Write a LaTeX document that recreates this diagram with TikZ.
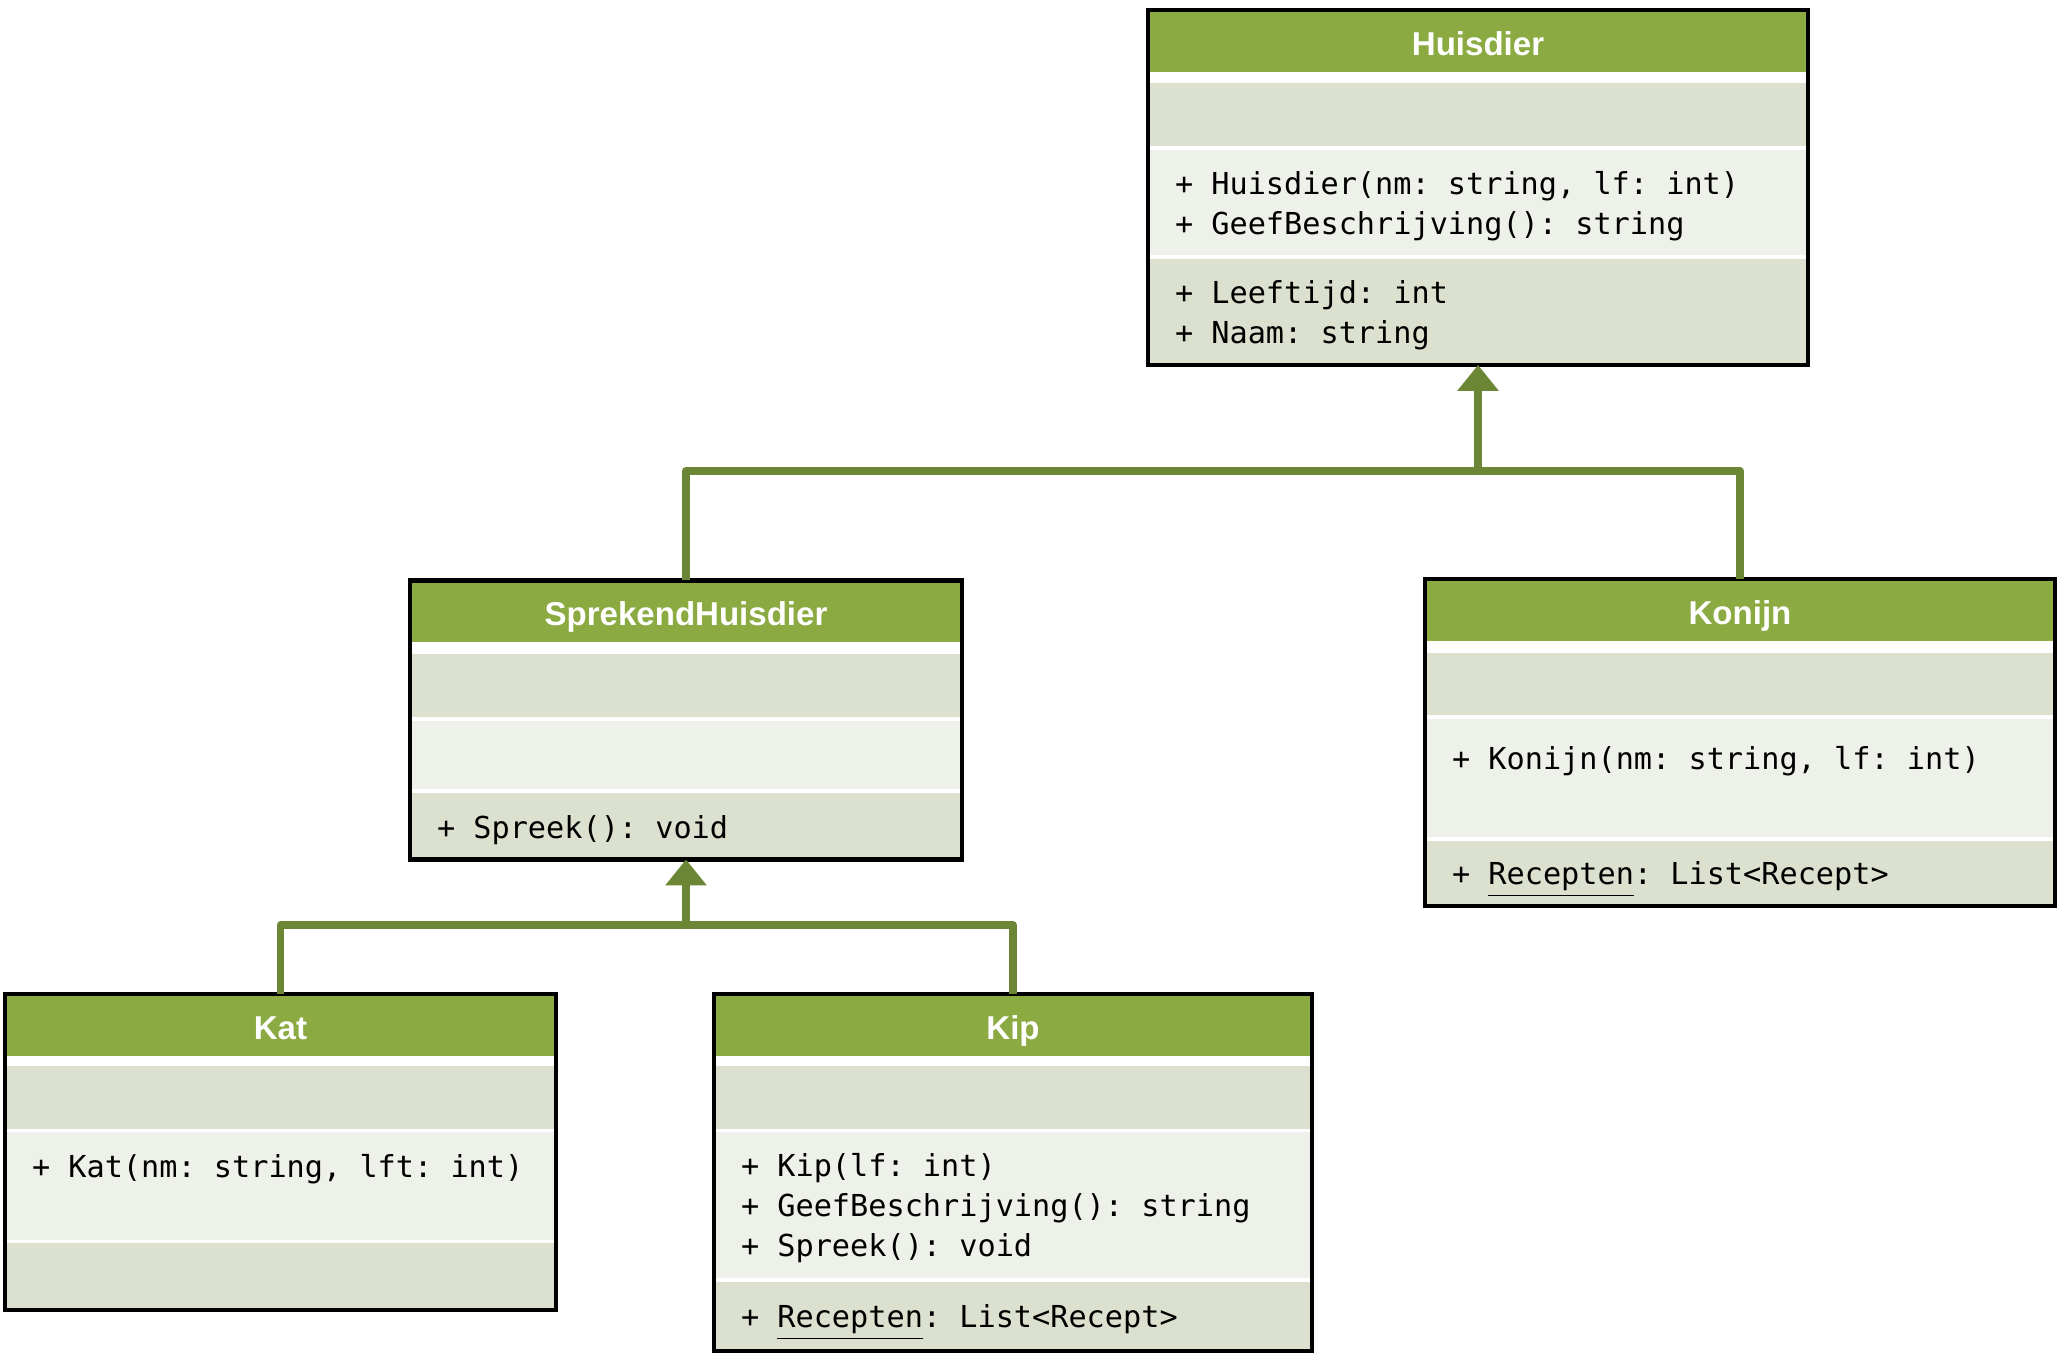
\documentclass[tikz,border=0pt]{standalone}
\usepackage{fontspec}
\usepackage{tikz}
\usetikzlibrary{positioning}
\usetikzlibrary{fit}
\usetikzlibrary{arrows.meta}

\newfontfamily\codefont{DejaVu Sans Mono}
\newfontfamily\headfont{Liberation Sans}

\definecolor{olivehead}{RGB}{140,170,66}
\definecolor{oliveband}{RGB}{219,225,206}
\definecolor{olivepale}{RGB}{238,241,233}
\definecolor{olivelink}{RGB}{107,134,52}

\begin{document}
\begin{tikzpicture}[
    >={Triangle[width=0.40cm,length=0.26cm]},
    every node/.style={inner sep=0pt, outer sep=0pt},
    title/.style={
        fill=olivehead,
        text=white,
        font=\headfont\bfseries\fontsize{9.4}{11}\selectfont,
        text height=8.2pt,
        text depth=0pt,
        minimum height=0.62cm
    },
    band/.style={
        fill=oliveband,
        font=\codefont\fontsize{8.6}{11.4}\selectfont\frenchspacing,
        inner xsep=0.27cm,
        align=flush left,
        execute at begin node={\rule{0pt}{10pt}},
        execute at end node={\rule[-3.4pt]{0pt}{3.4pt}}
    },
    pale/.style={
        band,
        fill=olivepale
    },
    frame/.style={
        draw,
        line width=1.2pt
    },
    link/.style={draw=olivelink, line width=2.2pt, line join=round},
    arrow/.style={link, ->}
]
\useasboundingbox (0,0) rectangle (20.64,13.57);

% Huisdier
\node[title, minimum width=6.60cm] (huisdier) at (14.78,13.16) {Huisdier};
\node[band, text width=6.06cm, minimum height=0.63cm, below=0.11cm of huisdier] (huisdier-a) {};
\node[pale, text width=6.06cm, minimum height=1.05cm, below=0.04cm of huisdier-a] (huisdier-b) {+ Huisdier(nm: string, lf: int)\\+ GeefBeschrijving(): string};
\node[band, text width=6.06cm, minimum height=1.06cm, below=0.04cm of huisdier-b] (huisdier-c) {+ Leeftijd: int\\+ Naam: string};
\node[frame, fit=(huisdier)(huisdier-c)] (huisdierbox) {};

% SprekendHuisdier
\node[title, minimum width=5.52cm] (sprekend) at (6.86,7.455) {SprekendHuisdier};
\node[band, text width=4.98cm, minimum height=0.63cm, below=0.12cm of sprekend] (sprekend-a) {};
\node[pale, text width=4.98cm, minimum height=0.68cm, below=0.04cm of sprekend-a] (sprekend-b) {};
\node[band, text width=4.98cm, minimum height=0.66cm, below=0.04cm of sprekend-b] (sprekend-c) {+ Spreek(): void};
\node[frame, fit=(sprekend)(sprekend-c)] (sprekendbox) {};

% Konijn
\node[title, minimum width=6.30cm] (konijn) at (17.40,7.47) {Konijn};
\node[band, text width=5.76cm, minimum height=0.62cm, below=0.12cm of konijn] (konijn-a) {};
\node[pale, text width=5.76cm, minimum height=1.18cm, below=0.04cm of konijn-a] (konijn-b) {+ Konijn(nm: string, lf: int)\\\phantom{+}};
\node[band, text width=5.76cm, minimum height=0.65cm, below=0.04cm of konijn-b] (konijn-c) {+ \underline{Recepten}: List<Recept>};
\node[frame, fit=(konijn)(konijn-c)] (konijnbox) {};

% Kat
\node[title, minimum width=5.51cm] (kat) at (2.805,3.32) {Kat};
\node[band, text width=4.97cm, minimum height=0.63cm, below=0.10cm of kat] (kat-a) {};
\node[pale, text width=4.97cm, minimum height=1.08cm, below=0.03cm of kat-a] (kat-b) {+ Kat(nm: string, lft: int)\\\phantom{+}};
\node[band, text width=4.97cm, minimum height=0.67cm, below=0.03cm of kat-b] (kat-c) {};
\node[frame, fit=(kat)(kat-c)] (katbox) {};

% Kip
\node[title, minimum width=5.98cm] (kip) at (10.13,3.32) {Kip};
\node[band, text width=5.44cm, minimum height=0.63cm, below=0.10cm of kip] (kip-a) {};
\node[pale, text width=5.44cm, minimum height=1.46cm, below=0.03cm of kip-a] (kip-b) {+ Kip(lf: int)\\+ GeefBeschrijving(): string\\+ Spreek(): void};
\node[band, text width=5.44cm, minimum height=0.69cm, below=0.04cm of kip-b] (kip-c) {+ \underline{Recepten}: List<Recept>};
\node[frame, fit=(kip)(kip-c)] (kipbox) {};

% Arrows
\coordinate (split1) at (14.78,8.86);
\coordinate (split2) at (6.86,4.32);

\draw[link] (sprekendbox.north) |- (split1) -| (konijnbox.north);
\draw[arrow] (split1) -- (huisdierbox.south);

\draw[link] (katbox.north) |- (split2) -| (kipbox.north);
\draw[arrow] (split2) -- (sprekendbox.south);

\end{tikzpicture}
\end{document}
